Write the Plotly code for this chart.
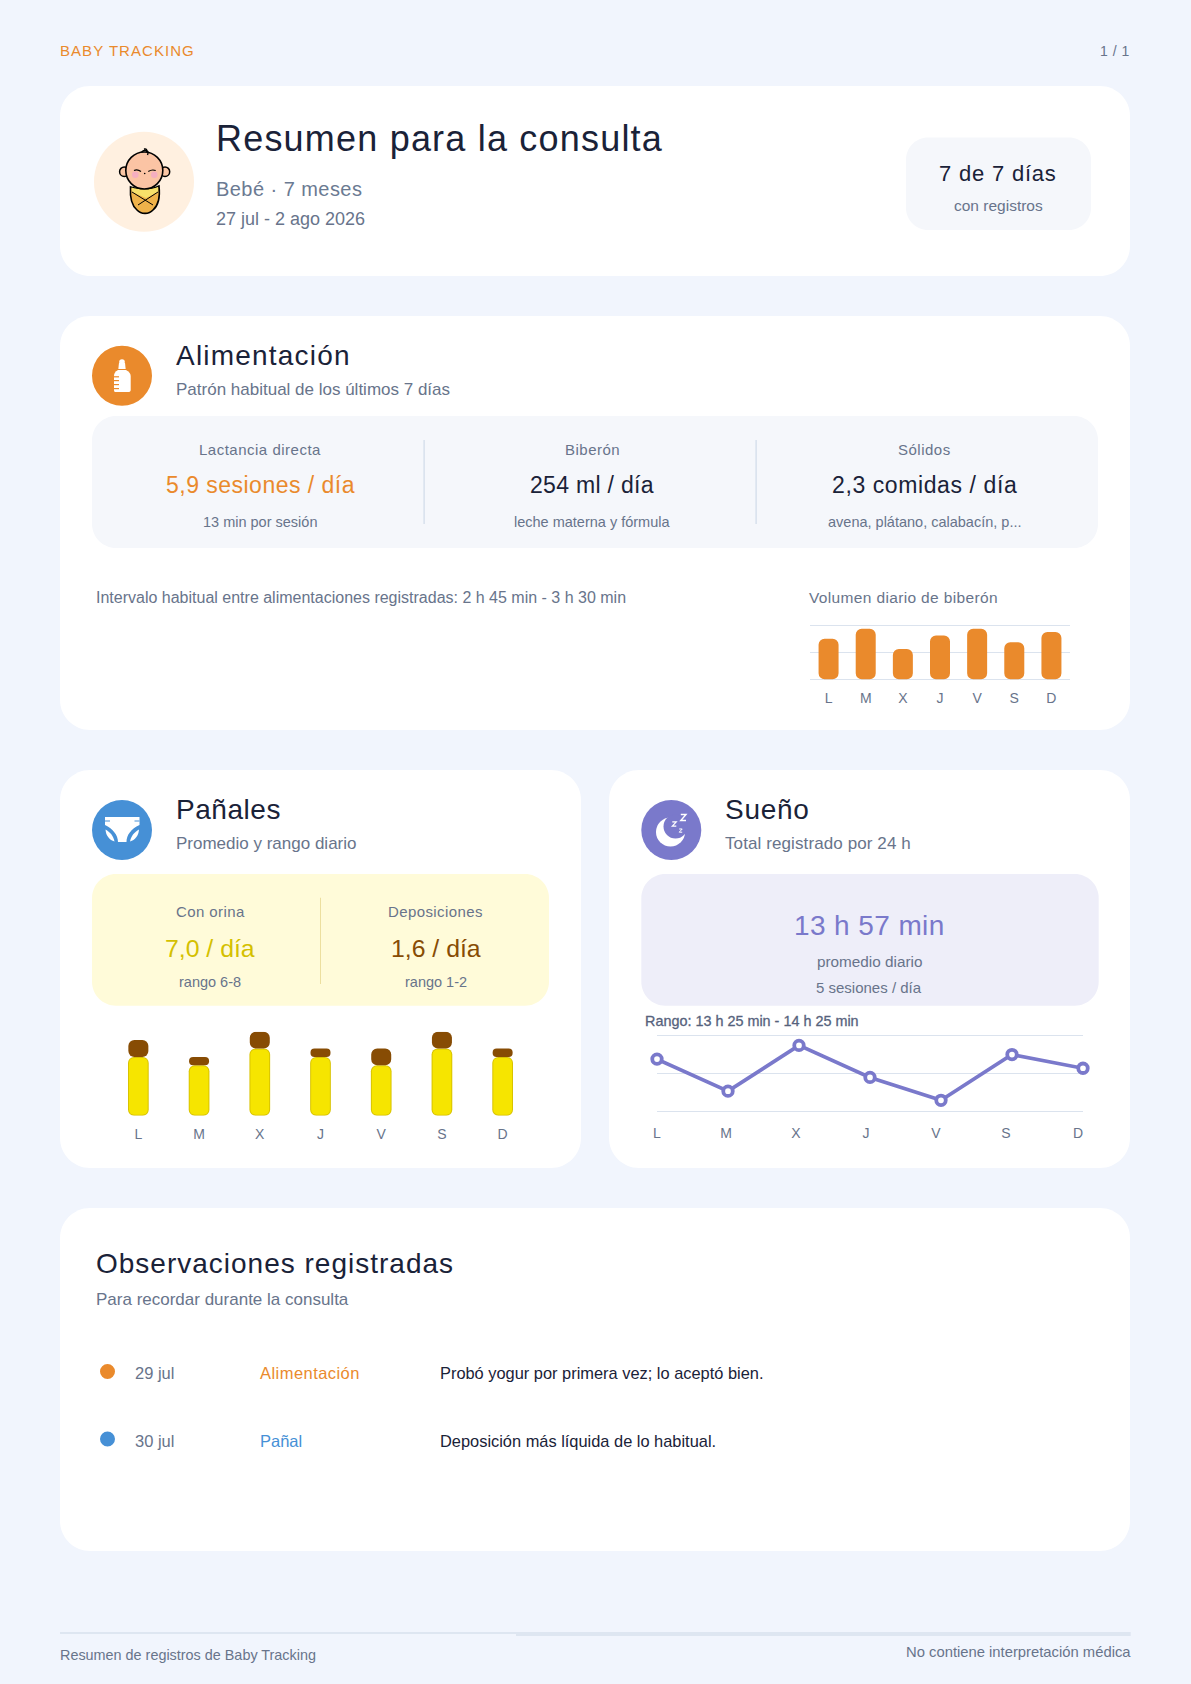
import numpy as np
import plotly.graph_objects as go

W, H = 1191, 1684

dias = ["L", "M", "X", "J", "V", "S", "D"]
biberon_ml = [240, 300, 180, 260, 300, 220, 280]
orina = [7, 6, 8, 7, 6, 8, 7]
deposiciones = [2, 1, 2, 1, 2, 2, 1]
sueno_min = [850, 815, 865, 830, 805, 855, 840]

FONT = "Liberation Sans"
BG = "#f1f5fd"
NAVY = "#1a2238"
GREY = "#68748b"
ORANGE = "#ea8a2c"
BLUE = "#4690d6"
PURPLE = "#7a79cb"
YELLOW = "#f6e500"
YELLOW_DK = "#d8c300"
BROWN = "#874c04"
GRID = "#dbe3ee"
PANEL = "#f5f7fb"

shapes = []
notes = []


def px(v):
    return v / W


def py(v):
    return 1 - v / H


def pth(d):
    # pasa un path en pixeles de pagina a coordenadas paper
    out, i = [], 0
    for tok in d.split():
        if tok.isalpha():
            out.append(tok)
        else:
            v = float(tok)
            out.append(f"{px(v):.5f}" if i % 2 == 0 else f"{py(v):.5f}")
            i += 1
    return " ".join(out)


def path(d, fill=None, line=None, lw=1):
    s = dict(type="path", path=pth(d), xref="paper", yref="paper", layer="below",
             line=dict(width=lw if line else 0, color=line or "rgba(0,0,0,0)"))
    if fill:
        s["fillcolor"] = fill
    shapes.append(s)


def rrect(x0, y0, x1, y1, r, fill):
    k = r * 0.45
    path(f"M {x0 + r} {y0} L {x1 - r} {y0} C {x1 - k} {y0} {x1} {y0 + k} {x1} {y0 + r} "
         f"L {x1} {y1 - r} C {x1} {y1 - k} {x1 - k} {y1} {x1 - r} {y1} "
         f"L {x0 + r} {y1} C {x0 + k} {y1} {x0} {y1 - k} {x0} {y1 - r} "
         f"L {x0} {y0 + r} C {x0} {y0 + k} {x0 + k} {y0} {x0 + r} {y0} Z", fill=fill)


def circle(cx, cy, r, fill, line=None, lw=1):
    shapes.append(dict(type="circle", xref="paper", yref="paper", layer="below",
                       x0=px(cx - r), x1=px(cx + r), y0=py(cy + r), y1=py(cy - r),
                       fillcolor=fill, line=dict(width=lw if line else 0, color=line or "rgba(0,0,0,0)")))


def rect(x0, y0, x1, y1, fill):
    shapes.append(dict(type="rect", xref="paper", yref="paper", layer="below",
                       x0=px(x0), x1=px(x1), y0=py(y1), y1=py(y0),
                       fillcolor=fill, line=dict(width=0)))


def text(x, base, s, size, color=GREY, anchor="left", sp=0, extra=""):
    # base = linea base del texto en pixeles
    estilo = (f"letter-spacing:{sp}px;" if sp else "") + extra
    t = f'<span style="{estilo}">{s}</span>' if estilo else s
    notes.append(dict(x=px(x), y=py(base - 0.3465 * size), xref="paper", yref="paper", text=t,
                      showarrow=False, xanchor=anchor, yanchor="middle", borderpad=0,
                      font=dict(family=FONT, size=size, color=color)))


def barra(fig, x, abajo, alto, ancho, color, radio, ax):
    # con base explicita plotly redondea los dos extremos de la barra
    fig.add_trace(go.Bar(x=x, y=alto, base=abajo, width=ancho,
                         xaxis=f"x{ax}", yaxis=f"y{ax}", showlegend=False,
                         marker=dict(color=color, cornerradius=radio, line=dict(width=0))))


# cabecera
text(59, 55.5, "BABY TRACKING", 15, ORANGE, sp=1.05)
text(1131, 55.5, "1 / 1", 14, GREY, "right", sp=0.5)

# tarjetas
rrect(60, 86, 1130, 276, 30, "white")
rrect(60, 316, 1130, 730, 30, "white")
rrect(60, 770, 581, 1168, 30, "white")
rrect(609, 770, 1130, 1168, 30, "white")
rrect(60, 1208, 1130, 1551, 30, "white")

# resumen
circle(144, 181.7, 50, "#fff0e0")
# bebe
path("M 130.5 187 C 138 190 152 190 159 186 C 160 195 159 205 153 210 C 149 214.5 141 214.5 137 210 "
     "C 131 205 130 195 130.5 187 Z", fill="#efb24a", line="black", lw=1.6)
path("M 131.5 187.5 C 138 190 152 190 158 187 L 158 192 L 146 198 L 132 192 Z", fill="#f7e06a")
path("M 132 192 L 153 205", line="black", lw=1)
path("M 158 192 L 138 205", line="black", lw=1)
circle(124.3, 171.7, 4.7, "#fbc6a4", "black", 1.5)
circle(165, 171.7, 4.7, "#fbc6a4", "black", 1.5)
circle(144.3, 170.5, 18.5, "#fbc4a4", "black", 1.6)
path("M 141.5 152 C 145 149 149.5 150 147.5 155 M 144 149 C 146 148.5 148 149.5 146 152", line="black", lw=1.4)
circle(135.3, 174.7, 3.3, "#f5afc0")
circle(154.3, 174.7, 3.3, "#f5afc0")
path("M 134 170.5 C 136 169.5 139 170 141 171.5", line="black", lw=1.1)
path("M 148.3 171.5 C 150.5 170 153 169.5 155.7 170.5", line="black", lw=1.1)
circle(144.7, 173.5, 0.8, "black")

text(214.7, 151, "Resumen para la consulta", 36, NAVY, sp=1.2)
text(214.7, 196, "Bebé · 7 meses", 20, "#6b7a92", sp=0.45)
text(214.7, 225.3, "27 jul - 2 ago 2026", 18, GREY)
rrect(906, 137.5, 1091, 230, 22, PANEL)
text(998, 181.5, "7 de 7 días", 22, NAVY, "center", sp=0.8)
text(998, 211, "con registros", 15.5, GREY, "center")

# alimentacion
circle(122, 375.7, 30, ORANGE)
circle(122, 362, 2.8, "white")
path("M 119 363 L 125 363 L 125.7 369 L 118.3 369 Z", fill="white")
path("M 118 370 L 126 370 C 129 371.5 130.7 373.5 130.7 376 L 130.7 390 C 130.7 391.5 129.5 392 128.5 392 "
     "L 115.5 392 C 114.5 392 114 391.5 114 390 L 114 376 C 114 373.5 115 371.5 118 370 Z", fill="white")
for yy in (376.2, 380, 384, 388):
    rect(114, yy, 119, yy + 1.2, ORANGE)
text(175, 365, "Alimentación", 28, NAVY, sp=1.2)
text(175, 395, "Patrón habitual de los últimos 7 días", 17, GREY)
rrect(92, 416, 1098, 548, 24, PANEL)
rect(423.3, 440, 425, 524, GRID)
rect(755.3, 440, 757, 524, GRID)
text(260, 455, "Lactancia directa", 15, GREY, "center", sp=0.5)
text(592, 455, "Biberón", 15, GREY, "center", sp=0.5)
text(924, 455, "Sólidos", 15, GREY, "center", sp=0.5)
text(260, 493, "5,9 sesiones / día", 23, ORANGE, "center", sp=0.48)
text(592, 493, "254 ml / día", 23, NAVY, "center", sp=0.3)
text(924, 493, "2,3 comidas / día", 23, NAVY, "center", sp=0.6)
text(260, 527, "13 min por sesión", 14.5, GREY, "center")
text(592, 527, "leche materna y fórmula", 14.5, GREY, "center")
text(924, 527, "avena, plátano, calabacín, p...", 14.5, GREY, "center")
text(95, 603.5, "Intervalo habitual entre alimentaciones registradas: 2 h 45 min - 3 h 30 min", 16, GREY)
text(808, 602.7, "Volumen diario de biberón", 15.5, GREY, sp=0.35)

# panales
circle(122, 830, 30, BLUE)
path("M 105 817 L 139.5 817 L 139.5 825 C 131 829 126.5 835 126.5 842 L 118 842 C 118 835 113 829 105 825 Z", fill="white")
path("M 105.5 829.5 C 110 832 113.5 836 114.5 841.5 C 109.5 840 106 836 105.5 829.5 Z", fill="white")
path("M 139 829.5 C 134.5 832 131 836 130 841.5 C 135 840 138.5 836 139 829.5 Z", fill="white")
rect(105, 820.5, 110, 821.5, BLUE)
rect(134.5, 820.5, 139.5, 821.5, BLUE)
text(174.7, 819, "Pañales", 28, NAVY, sp=0.55)
text(174.7, 849.3, "Promedio y rango diario", 17, GREY)
rrect(92, 874, 549, 1005.7, 24, "#fffbd9")
rect(320, 897.7, 321, 984, "#ecdf9f")
text(210, 916.3, "Con orina", 15, GREY, "center", sp=0.4)
text(435.7, 916.3, "Deposiciones", 15, GREY, "center", sp=0.4)
text(210, 957.3, "7,0 / día", 24.8, "#d4c000", "center")
text(435.7, 957.3, "1,6 / día", 24.8, BROWN, "center")
text(210, 986.7, "rango 6-8", 14.5, GREY, "center")
text(435.7, 986.7, "rango 1-2", 14.5, GREY, "center")

# sueno
circle(671.3, 830, 30, PURPLE)
circle(670.5, 832, 14.5, "white")
circle(675.5, 826.5, 12, PURPLE)
path("M 680.8 814.5 L 686 814.5 L 680.8 820.5 L 686 820.5", line="white", lw=1.4)
path("M 672.3 821.8 L 676.3 821.8 L 672.3 826.2 L 676.3 826.2", line="white", lw=1.2)
path("M 679.2 829 L 682.2 829 L 679.2 832.2 L 682.2 832.2", line="white", lw=1)
text(723.7, 819, "Sueño", 28, NAVY, sp=0.7)
text(723.7, 849.3, "Total registrado por 24 h", 17, GREY, sp=0.1)
rrect(641.3, 874, 1098.7, 1005.7, 24, "#eeeef9")
text(869.3, 935, "13 h 57 min", 28, PURPLE, "center", sp=0.4)
text(869.3, 967, "promedio diario", 15.3, GREY, "center")
text(869.3, 992.3, "5 sesiones / día", 15, GREY, "center")
text(644.3, 1026, "Rango: 13 h 25 min - 14 h 25 min", 14.4, "#56627c", extra="stroke:#56627c;stroke-width:0.3px;")

# observaciones
text(95, 1273, "Observaciones registradas", 28, NAVY, sp=1.0)
text(95, 1305, "Para recordar durante la consulta", 17, GREY)
circle(107.5, 1371.5, 7.5, ORANGE)
text(134, 1379, "29 jul", 16.5, GREY)
text(259, 1379, "Alimentación", 16.5, ORANGE, sp=0.45)
text(439, 1379, "Probó yogur por primera vez; lo aceptó bien.", 16.4, NAVY)
circle(107.5, 1439, 7.5, BLUE)
text(134, 1447, "30 jul", 16.5, GREY)
text(259, 1447, "Pañal", 16.5, BLUE)
text(439, 1447, "Deposición más líquida de lo habitual.", 16.4, NAVY)

# pie
rect(60, 1632, 516, 1634, "#dee6f1")
rect(516, 1632, 1130.7, 1636, "#dee6f1")
text(59, 1660, "Resumen de registros de Baby Tracking", 14.4, GREY)
text(1131.7, 1657.3, "No contiene interpretación médica", 14.8, GREY, "right")

fig = go.Figure()

# biberon
barra(fig, dias, [0] * 7, biberon_ml, 20 / 37.14, ORANGE, 6, "")

# panales: la orina con borde y las deposiciones encima
paso = 1 / 8.4
barra(fig, dias, [0] * 7, orina, 20.7 / 60.7, YELLOW_DK, 6, 2)
barra(fig, dias, [paso] * 7, np.array(orina) - 2 * paso, 18.7 / 60.7, YELLOW, 5, 2)
barra(fig, dias, orina, deposiciones, 20 / 60.7, BROWN, 6, 2)

# sueno
marcas_x = list(range(7))
etiquetas_x = [0, 0.972, 1.958, 2.944, 3.93, 4.915, 5.93]
fig.add_trace(go.Scatter(x=marcas_x, y=sueno_min, xaxis="x3", yaxis="y3", mode="lines+markers", showlegend=False,
                         cliponaxis=False, line=dict(color=PURPLE, width=3.7),
                         marker=dict(size=9.5, color="white", line=dict(color=PURPLE, width=3.8))))

tick = dict(family=FONT, size=14, color=GREY)
eje_x = dict(showgrid=False, zeroline=False, showline=False, ticks="outside",
             tickcolor="rgba(0,0,0,0)", tickfont=tick)
# algo de aire en cada eje y para que plotly no quite las rejillas de los bordes
fig.update_layout(
    width=W, height=H, autosize=False, margin=dict(l=0, r=0, t=0, b=0, autoexpand=False),
    paper_bgcolor=BG, plot_bgcolor="rgba(0,0,0,0)", barmode="overlay", showlegend=False,
    font=dict(family=FONT), shapes=shapes, annotations=notes,
    xaxis=dict(domain=[px(810), px(1070)], anchor="y", type="category", categoryarray=dias,
               range=[-0.5, 6.5], ticklen=5, **eje_x),
    yaxis=dict(domain=[py(680.3), py(623.3)], anchor="x", range=[-5.93, 331.85], tickvals=[0, 160, 320],
               showticklabels=False, gridcolor=GRID, gridwidth=1, zeroline=False, showline=False),
    xaxis2=dict(domain=[px(108), px(533)], anchor="y2", type="category", categoryarray=dias,
                range=[-0.5, 6.5], ticklen=5, **eje_x),
    yaxis2=dict(domain=[py(1115.7), py(1031.7)], anchor="x2", range=[0, 10], showgrid=False,
                showticklabels=False, zeroline=False, showline=False),
    xaxis3=dict(domain=[px(657), px(1083)], anchor="y3", range=[0, 6], tickvals=etiquetas_x,
                ticktext=dias, ticklen=8, **eje_x),
    yaxis3=dict(domain=[py(1112.3), py(1034.3)], anchor="x3", range=[791.9, 877.1], tickvals=[793, 834.5, 876],
                showticklabels=False, gridcolor=GRID, gridwidth=1, zeroline=False, showline=False),
)

# sin el margen del body la pagina mide justo lo que la ventana
fig.write_html("out.html", config={"displayModeBar": False},
               post_script=f"document.body.style.margin='0';document.body.style.background='{BG}';")
